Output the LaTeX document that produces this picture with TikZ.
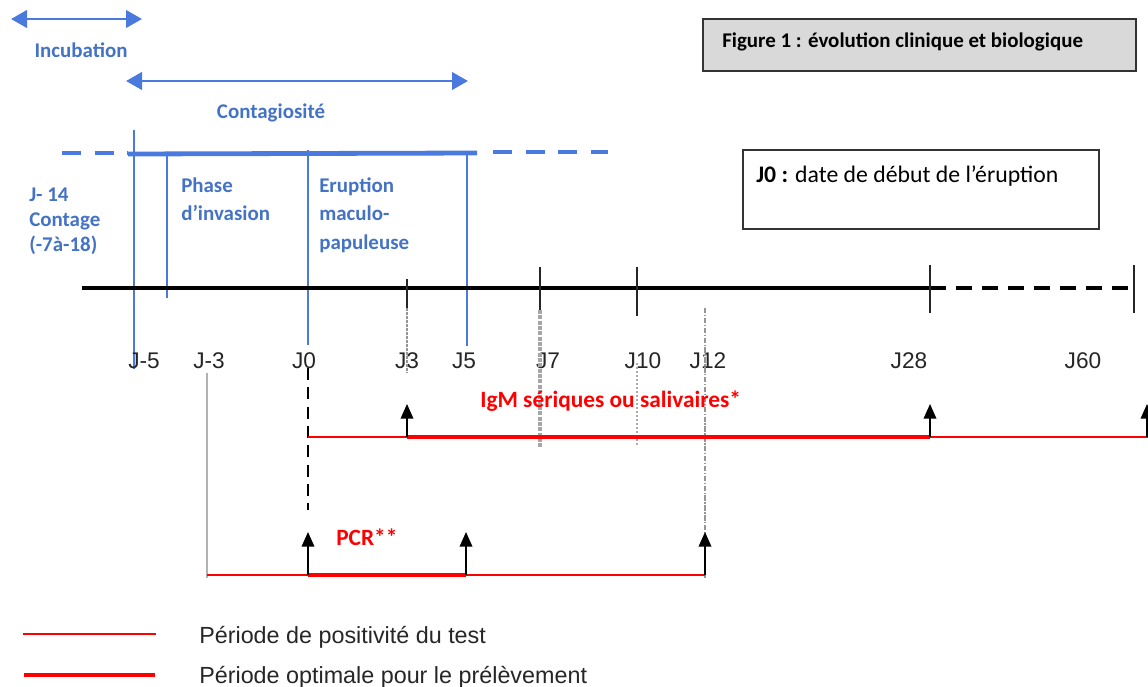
\documentclass[tikz,border=0pt]{standalone}
\usepackage{fontspec}
\setmainfont{Liberation Sans}
\newfontfamily\calfont{Carlito}
\usetikzlibrary{arrows.meta}
\definecolor{txtblue}{RGB}{68,114,196}
\definecolor{lineblue}{RGB}{74,122,222}
\definecolor{myred}{RGB}{255,0,0}
\definecolor{boxgray}{RGB}{217,217,217}
\definecolor{greyline}{RGB}{150,150,150}
\begin{document}
\begin{tikzpicture}[x=0.75pt,y=-0.75pt,
  bluetxt/.style={text=txtblue,font=\calfont\bfseries\fontsize{15.7}{18}\selectfont,inner sep=0pt},
  redtxt/.style={text=myred,font=\calfont\bfseries\fontsize{17.5}{20}\selectfont,inner sep=0pt},
  daytxt/.style={text=black!85,font=\fontsize{17}{20}\selectfont,inner sep=0pt,anchor=base},
  legtxt/.style={text=black!85,font=\fontsize{17.5}{20}\selectfont,inner sep=0pt,anchor=base west},
  bluearrow/.style={lineblue,line width=2.2pt,{Triangle[width=13pt,length=12pt]}-{Triangle[width=13pt,length=12pt]}},
  bluevert/.style={lineblue,line width=1.5pt},
  tick/.style={black!85,line width=1.1pt},
  upArrow/.style={black,line width=1.1pt,-{Triangle[width=9.5pt,length=11pt]}},
  redthin/.style={myred,line width=1.1pt},
  redthick/.style={myred,line width=3.3pt},
]
\useasboundingbox (0,0) rectangle (1148,686);

% --- Incubation / Contagiosite arrows
\coordinate (incL) at (11,19); \coordinate (incR) at (142,19);
\draw[bluearrow] (incL) -- (incR);
\node[bluetxt,anchor=base] (inc) at (81,57) {Incubation};
\coordinate (conL) at (126,81); \coordinate (conR) at (468,81);
\draw[bluearrow] (conL) -- (conR);
\node[bluetxt,anchor=base] (con) at (271,118) {Contagiosité};

% --- blue dashed/solid line
\coordinate (dashA) at (62,153); \coordinate (dashB) at (128,153);
\coordinate (solA) at (128,154); \coordinate (solB) at (477,153);
\coordinate (dashC) at (493,152); \coordinate (dashD) at (608,152);
\draw[lineblue,line width=3.2pt,dash pattern=on 14.3pt off 10.2pt] (dashA) -- (dashB);
\draw[lineblue,line width=3.6pt] (solA) -- (solB);
\draw[lineblue,line width=3.2pt,dash pattern=on 14.3pt off 10.2pt] (dashC) -- (dashD);

% --- blue verticals
\coordinate (v1t) at (134,130); \coordinate (v1b) at (134,369);
\coordinate (v2t) at (167,155); \coordinate (v2b) at (167,298);
\coordinate (v3t) at (308,150); \coordinate (v3b) at (308,345);
\coordinate (v4t) at (467,155); \coordinate (v4b) at (467,346);
\draw[bluevert] (v1t) -- (v1b);
\draw[bluevert] (v2t) -- (v2b);
\draw[bluevert] (v3t) -- (v3b);
\draw[bluevert] (v4t) -- (v4b);

% --- blue texts
\node[bluetxt,anchor=base west] (ct1) at (29,201) {J- 14};
\node[bluetxt,anchor=base west] (ct2) at (29,226) {Contage};
\node[bluetxt,anchor=base west] (ct3) at (29,251) {(-7à-18)};
\node[bluetxt,anchor=base west] (ph1) at (181,192) {Phase};
\node[bluetxt,anchor=base west] (ph2) at (181,220) {d’invasion};
\node[bluetxt,anchor=base west] (er1) at (319,192) {Eruption};
\node[bluetxt,anchor=base west] (er2) at (319,220.5) {maculo-};
\node[bluetxt,anchor=base west] (er3) at (319,249) {papuleuse};

% --- boxes
\node[draw=black!80,line width=1pt,fill=boxgray,minimum width=433*0.75pt,minimum height=52*0.75pt,inner sep=0pt] (figbox) at (919.5,45) {};
\node[font=\calfont\bfseries\fontsize{15.7}{18}\selectfont,anchor=base west,inner sep=0pt] (figtxt) at (722,47) {Figure 1 : évolution clinique et biologique};
\node[draw=black!80,line width=1pt,fill=white,minimum width=356*0.75pt,minimum height=79*0.75pt,inner sep=0pt] (j0box) at (921,189.5) {};
\node[font=\calfont\fontsize{17.8}{20}\selectfont,anchor=base west,inner sep=0pt] (j0txt) at (756,182) {\textbf{J0 :} date de début de l’éruption};

% --- time axis
\coordinate (axA) at (82,288); \coordinate (ax28) at (930,288); \coordinate (ax60) at (1133,288);
\draw[black,line width=3pt] (axA) -- (ax28);
\draw[black,line width=2.4pt,dash pattern=on 12pt off 7.5pt] (ax28) -- (ax60);

% ticks
\coordinate (t3a) at (407,279); \coordinate (t3b) at (407,308);
\coordinate (t7a) at (540,267); \coordinate (t7b) at (540,310);
\coordinate (t10a) at (637,267); \coordinate (t10b) at (637,316);
\coordinate (t28a) at (930,265); \coordinate (t28b) at (930,313);
\coordinate (t60a) at (1134,265); \coordinate (t60b) at (1134,313);
\draw[tick] (t3a) -- (t3b);
\draw[tick] (t7a) -- (t7b);
\draw[tick] (t10a) -- (t10b);
\draw[tick] (t28a) -- (t28b);
\draw[tick] (t60a) -- (t60b);

% day labels
\node[daytxt] (dm5) at (144,368) {J-5};
\node[daytxt] (dm3) at (209,368) {J-3};
\node[daytxt] (d0) at (304,368) {J0};
\node[daytxt] (d3) at (407,368) {J3};
\node[daytxt] (d5) at (464,368) {J5};
\node[daytxt] (d7) at (548,368) {J7};
\node[daytxt] (d10) at (643,368) {J10};
\node[daytxt] (d12) at (708,368) {J12};
\node[daytxt] (d28) at (909,368) {J28};
\node[daytxt] (d60) at (1083,368) {J60};

% grey guide lines
\coordinate (g3a) at (407,308); \coordinate (g3b) at (407,373);
\coordinate (g7a) at (540,310); \coordinate (g7b) at (540,448);
\coordinate (g10a) at (637,363); \coordinate (g10b) at (637,445);
\coordinate (g12a) at (705,308); \coordinate (g12b) at (705,578);
\coordinate (gm3a) at (207,373); \coordinate (gm3b) at (207,578);
\draw[greyline,line width=2.2pt,dash pattern=on 2.2pt off 0.8pt] (g3a) -- (g3b);
\draw[greyline!85,line width=3.2pt,dash pattern=on 3pt off 1pt] (g7a) -- (g7b);
\draw[greyline!80,line width=1.1pt,dash pattern=on 1.5pt off 1.5pt] (g10a) -- (g10b);
\draw[greyline,line width=1.4pt,dash pattern=on 4pt off 1.2pt on 1pt off 1.2pt] (g12a) -- (g12b);
\draw[black!30,line width=0.8pt] (gm3a) -- (gm3b);

% J0 black dashed
\coordinate (j0a) at (308,368); \coordinate (j0b) at (308,510);
\draw[black,line width=1.9pt,dash pattern=on 9pt off 5.5pt] (j0a) -- (j0b);

% --- IgM
\node[redtxt,anchor=base west] (igm) at (480,407) {IgM sériques ou salivaires*};
\coordinate (iA) at (308,437); \coordinate (i3) at (407,437); \coordinate (i28) at (930,437); \coordinate (iE) at (1148,437);
\coordinate (i3u) at (407,404); \coordinate (i28u) at (930,404); \coordinate (i60) at (1147,437); \coordinate (i60u) at (1147,404);
\draw[redthin] (iA) -- (iE);
\draw[redthick] (i3) -- (i28);
\draw[upArrow] (i3) -- (i3u);
\draw[upArrow] (i28) -- (i28u);
\draw[upArrow] (i60) -- (i60u);

% --- PCR
\node[redtxt,anchor=base west] (pcr) at (336,545) {PCR**};
\coordinate (pA) at (207,575); \coordinate (p0) at (308,575); \coordinate (p5) at (466,575); \coordinate (p12) at (705,575);
\coordinate (p0u) at (308,532); \coordinate (p5u) at (466,532); \coordinate (p12u) at (705,532);
\draw[redthin] (pA) -- (p12);
\draw[redthick] (p0) -- (p5);
\draw[upArrow] (p0) -- (p0u);
\draw[upArrow] (p5) -- (p5u);
\draw[upArrow] (p12) -- (p12u);

% --- legend
\coordinate (l1a) at (23,634); \coordinate (l1b) at (156,634);
\coordinate (l2a) at (24,675); \coordinate (l2b) at (155,675);
\draw[redthin,line width=1.6pt] (l1a) -- (l1b);
\draw[redthick] (l2a) -- (l2b);
\node[legtxt] (leg1) at (199,643) {Période de positivité du test};
\node[legtxt] (leg2) at (199,683) {Période optimale pour le prélèvement};
\end{tikzpicture}
\end{document}
